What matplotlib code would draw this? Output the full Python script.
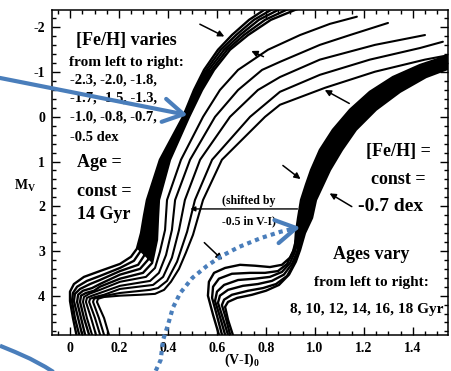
import matplotlib
matplotlib.use('Agg')
import matplotlib.pyplot as plt
from matplotlib.ticker import MultipleLocator

plt.rcParams['font.family'] = ['Liberation Serif', 'DejaVu Serif']
plt.rcParams['font.weight'] = 'bold'

# 14 Gyr isochrones, [Fe/H] varies (points are (V-I)_0, M_V)
feh_m23 = [(0.029, 4.95), (0.012, 4.50), (0.000, 4.12), (0.000, 3.91), (0.016, 3.74), (0.057, 3.58),
           (0.122, 3.45), (0.204, 3.29), (0.249, 3.13), (0.273, 2.95), (0.290, 2.60), (0.302, 2.21),
           (0.314, 1.86), (0.367, 0.96), (0.461, 0.00), (0.506, -0.60), (0.547, -1.05), (0.604, -1.50),
           (0.661, -1.83), (0.731, -2.17), (0.792, -2.39), (0.829, -2.51)]
feh_m20 = [(0.041, 4.95), (0.020, 4.50), (0.008, 4.12), (0.012, 3.94), (0.029, 3.80), (0.069, 3.67),
           (0.122, 3.56), (0.204, 3.38), (0.261, 3.22), (0.286, 3.02), (0.306, 2.60), (0.314, 2.21),
           (0.327, 1.86), (0.378, 0.96), (0.467, 0.00), (0.514, -0.60), (0.557, -1.05), (0.616, -1.50),
           (0.678, -1.83), (0.751, -2.17), (0.820, -2.39), (0.861, -2.51)]
feh_m18 = [(0.053, 4.95), (0.033, 4.50), (0.016, 4.12), (0.020, 3.96), (0.041, 3.85), (0.082, 3.74),
           (0.122, 3.65), (0.204, 3.45), (0.278, 3.31), (0.302, 3.11), (0.322, 2.60), (0.331, 2.21),
           (0.339, 1.86), (0.388, 0.96), (0.473, 0.00), (0.522, -0.60), (0.567, -1.05), (0.629, -1.50),
           (0.694, -1.83), (0.771, -2.17), (0.849, -2.39), (0.894, -2.51)]
feh_m17 = [(0.065, 4.95), (0.045, 4.50), (0.029, 4.14), (0.033, 3.98), (0.053, 3.89), (0.090, 3.83),
           (0.122, 3.74), (0.204, 3.53), (0.286, 3.40), (0.318, 3.20), (0.339, 2.64), (0.347, 2.21),
           (0.351, 1.86), (0.398, 0.96), (0.480, 0.00), (0.531, -0.60), (0.578, -1.05), (0.641, -1.50),
           (0.710, -1.83), (0.796, -2.17), (0.882, -2.39), (0.931, -2.51)]
feh_m15 = [(0.082, 4.95), (0.057, 4.50), (0.041, 4.14), (0.045, 4.00), (0.065, 3.94), (0.098, 3.89),
           (0.122, 3.80), (0.204, 3.62), (0.298, 3.49), (0.335, 3.27), (0.355, 2.75), (0.359, 2.26),
           (0.363, 1.86), (0.408, 0.96), (0.486, 0.00), (0.539, -0.60), (0.588, -1.05), (0.653, -1.50),
           (0.727, -1.83), (0.820, -2.17), (0.918, -2.39), (0.976, -2.51)]
feh_m13 = [(0.094, 4.95), (0.069, 4.50), (0.053, 4.14), (0.057, 4.03), (0.078, 3.96), (0.122, 3.87),
           (0.204, 3.69), (0.310, 3.58), (0.347, 3.38), (0.367, 3.02), (0.388, 2.53), (0.396, 1.86),
           (0.453, 0.96), (0.543, 0.00), (0.612, -0.60), (0.686, -1.05), (0.808, -1.50), (0.939, -1.83),
           (1.061, -2.08), (1.171, -2.24)]
feh_m10 = [(0.110, 4.95), (0.086, 4.50), (0.065, 4.14), (0.069, 4.05), (0.090, 4.00), (0.122, 3.94),
           (0.204, 3.78), (0.327, 3.67), (0.363, 3.49), (0.392, 3.09), (0.416, 2.53), (0.429, 1.86),
           (0.490, 0.96), (0.592, 0.00), (0.686, -0.60), (0.784, -1.05), (0.857, -1.23), (1.020, -1.61),
           (1.143, -1.83), (1.298, -2.10)]
feh_m08 = [(0.127, 4.95), (0.102, 4.50), (0.078, 4.14), (0.082, 4.07), (0.102, 4.03), (0.139, 3.98),
           (0.204, 3.85), (0.339, 3.76), (0.380, 3.58), (0.416, 3.15), (0.445, 2.53), (0.469, 1.86),
           (0.531, 0.96), (0.653, 0.00), (0.767, -0.60), (0.857, -0.89), (1.020, -1.28), (1.245, -1.61),
           (1.449, -1.83)]
feh_m07 = [(0.143, 4.95), (0.118, 4.50), (0.094, 4.14), (0.098, 4.07), (0.118, 4.03), (0.204, 3.94),
           (0.327, 3.87), (0.359, 3.83), (0.396, 3.67), (0.437, 3.24), (0.478, 2.57), (0.510, 1.86),
           (0.580, 0.96), (0.735, 0.00), (0.857, -0.56), (1.020, -0.94), (1.224, -1.28), (1.429, -1.54),
           (1.522, -1.68)]
feh_m05 = [(0.163, 4.95), (0.139, 4.50), (0.110, 4.14), (0.114, 4.07), (0.139, 4.03), (0.204, 4.00),
           (0.286, 3.98), (0.347, 3.96), (0.384, 3.87), (0.412, 3.69), (0.445, 3.40), (0.473, 3.04),
           (0.502, 2.64), (0.522, 2.26), (0.543, 1.86), (0.620, 0.96), (0.796, 0.00), (0.857, -0.27),
           (1.041, -0.65), (1.245, -1.01), (1.449, -1.28), (1.555, -1.39)]

# [Fe/H] = -0.7 isochrones, ages 8..18 Gyr (shown shifted in V-I)
age_08 = [(0.612, 4.95), (0.584, 4.43), (0.563, 4.00), (0.567, 3.69), (0.588, 3.49), (0.633, 3.38),
          (0.694, 3.31), (0.755, 3.33), (0.816, 3.36), (0.865, 3.31), (0.898, 3.15), (0.918, 2.93),
          (0.922, 2.60), (0.931, 2.26), (0.943, 1.86), (0.963, 1.52), (0.984, 1.19), (1.020, 0.74),
          (1.073, 0.29), (1.143, -0.16), (1.224, -0.56), (1.318, -0.89), (1.429, -1.16), (1.555, -1.39)]
age_10 = [(0.624, 4.95), (0.600, 4.45), (0.580, 4.05), (0.584, 3.80), (0.608, 3.62), (0.661, 3.51),
          (0.735, 3.49), (0.796, 3.49), (0.849, 3.45), (0.886, 3.29), (0.910, 3.02), (0.930, 2.60),
          (0.942, 2.26), (0.955, 1.86), (0.977, 1.52), (0.999, 1.19), (1.038, 0.74), (1.092, 0.29),
          (1.164, -0.16), (1.249, -0.56), (1.345, -0.89), (1.461, -1.19), (1.555, -1.32)]
age_12 = [(0.637, 4.95), (0.612, 4.47), (0.592, 4.12), (0.600, 3.91), (0.629, 3.76), (0.686, 3.65),
          (0.755, 3.62), (0.816, 3.58), (0.865, 3.47), (0.898, 3.27), (0.918, 3.02), (0.937, 2.60),
          (0.953, 2.26), (0.967, 1.86), (0.991, 1.52), (1.015, 1.19), (1.056, 0.74), (1.111, 0.29),
          (1.185, -0.16), (1.273, -0.56), (1.371, -0.89), (1.478, -1.14), (1.555, -1.25)]
age_14 = [(0.649, 4.95), (0.624, 4.50), (0.604, 4.16), (0.612, 4.00), (0.645, 3.87), (0.706, 3.78),
          (0.767, 3.74), (0.824, 3.67), (0.873, 3.53), (0.906, 3.29), (0.927, 3.02), (0.944, 2.60),
          (0.965, 2.26), (0.980, 1.86), (1.007, 1.52), (1.033, 1.19), (1.074, 0.74), (1.130, 0.29),
          (1.207, -0.16), (1.298, -0.56), (1.398, -0.89), (1.498, -1.10), (1.555, -1.19)]
age_16 = [(0.657, 4.95), (0.637, 4.52), (0.620, 4.21), (0.629, 4.09), (0.661, 3.98), (0.727, 3.89),
          (0.788, 3.83), (0.841, 3.74), (0.886, 3.56), (0.914, 3.29), (0.931, 3.02), (0.952, 2.60),
          (0.976, 2.26), (0.992, 1.86), (1.020, 1.52), (1.047, 1.19), (1.092, 0.74), (1.149, 0.29),
          (1.228, -0.16), (1.322, -0.56), (1.424, -0.89), (1.510, -1.05), (1.555, -1.14)]
age_18 = [(0.669, 4.95), (0.645, 4.54), (0.633, 4.25), (0.645, 4.14), (0.682, 4.05), (0.743, 3.98),
          (0.800, 3.89), (0.853, 3.76), (0.894, 3.53), (0.922, 3.24), (0.939, 2.98), (0.959, 2.60),
          (0.988, 2.26), (1.004, 1.86), (1.033, 1.52), (1.061, 1.19), (1.110, 0.74), (1.167, 0.29),
          (1.249, -0.16), (1.347, -0.56), (1.453, -0.89), (1.555, -1.10)]

metal_poor = [feh_m23, feh_m20, feh_m18, feh_m17, feh_m15]
metal_rich = [feh_m13, feh_m10, feh_m08, feh_m07, feh_m05]
age_tracks = [age_08, age_10, age_12, age_14, age_16, age_18]

# small black arrows: (tail, head)
black_arrows = [((0.52, -2.10), (0.64, -1.77)),
                ((0.80, -1.32), (0.73, -1.50)),
                ((1.15, -0.27), (1.03, -0.63)),
                ((0.86, 1.05), (0.95, 1.43)),
                ((1.16, 2.04), (1.05, 1.68)),
                ((0.54, 2.77), (0.63, 3.24))]

# blue overlay marks from the slide
blue_arrow = ((-0.286, -0.87), (0.48, -0.04))
blue_dotted = [(0.35, 5.68), (0.37, 5.44), (0.38, 4.99), (0.40, 4.65), (0.42, 4.27), (0.45, 3.94),
               (0.50, 3.60), (0.56, 3.33), (0.62, 3.11), (0.69, 2.91), (0.78, 2.71), (0.86, 2.57),
               (0.92, 2.49)]
blue_arc = [(-0.286, 5.12), (-0.224, 5.26), (-0.163, 5.41), (-0.102, 5.59), (-0.061, 5.73)]

blue = '#4a7ebb'

fig = plt.figure(figsize=(4.51, 3.71), dpi=100)
ax = fig.add_axes([52 / 451, 1 - 335 / 371, 396 / 451, 325 / 371])

# the metal-poor ones and the age set run together into solid black bands
band1 = feh_m23[9:17] + feh_m15[9:17][::-1]
band2 = age_08[11:] + age_18[10:][::-1]
for band in (band1, band2):
    ax.fill([p[0] for p in band], [p[1] for p in band], color='k', lw=0)

for trk in metal_poor + age_tracks:
    ax.plot([p[0] for p in trk], [p[1] for p in trk], color='k', lw=1.7, solid_capstyle='round')
for trk in metal_rich:
    ax.plot([p[0] for p in trk], [p[1] for p in trk], color='k', lw=1.5, solid_capstyle='round')

ax.set_xlim(-0.0735, 1.543)
ax.set_ylim(4.88, -2.39)
ax.xaxis.set_major_locator(MultipleLocator(0.2))
ax.xaxis.set_minor_locator(MultipleLocator(0.05))
ax.yaxis.set_major_locator(MultipleLocator(1))
ax.yaxis.set_minor_locator(MultipleLocator(0.2))
ax.tick_params(which='both', direction='in', top=True, right=True, width=1, labelsize=10, pad=5)
ax.tick_params(which='major', length=6)
ax.tick_params(which='minor', length=3)
ax.xaxis.set_major_formatter(plt.FuncFormatter(lambda v, p: '0' if abs(v) < 1e-9 else f'{v:.1f}'))
ax.yaxis.set_major_formatter(plt.FuncFormatter(lambda v, p: f'{v:.0f}'))
for s in ax.spines.values():
    s.set_linewidth(1.1)

ax.text(-0.185, 1.54, r'M$_\mathregular{V}$', fontsize=10, ha='center', va='center')
ax.text(0.70, 5.45, r'(V-I)$_\mathregular{0}$', fontsize=10, ha='center', va='center')

# left text block
ax.text(0.23, -1.70, '[Fe/H] varies', fontsize=13, ha='center', va='center')
ax.text(0.23, -1.21, 'from left to right:', fontsize=11, ha='center', va='center')
for yy, s in zip([-0.83, -0.43, 0.0, 0.47],
                 ['-2.3, -2.0, -1.8,', '-1.7, -1.5, -1.3,', '-1.0, -0.8, -0.7,', '-0.5 dex']):
    ax.text(0.0, yy, s, fontsize=10.5, ha='left', va='center')
for yy, s in zip([1.03, 1.68, 2.19], ['Age =', 'const =', '14 Gyr']):
    ax.text(0.03, yy, s, fontsize=13, ha='left', va='center')

# right text block
ax.text(1.34, 0.78, '[Fe/H] =', fontsize=13, ha='center', va='center')
ax.text(1.34, 1.41, 'const =', fontsize=13, ha='center', va='center')
ax.text(1.31, 2.01, '-0.7 dex', fontsize=14, ha='center', va='center')
ax.text(1.23, 3.09, 'Ages vary', fontsize=13, ha='center', va='center')
ax.text(1.23, 3.71, 'from left to right:', fontsize=11, ha='center', va='center')
ax.text(1.21, 4.32, '8, 10, 12, 14, 16, 18 Gyr', fontsize=11, ha='center', va='center')

ax.text(0.73, 1.88, '(shifted by', fontsize=8.5, ha='center', va='center')
ax.text(0.73, 2.33, '-0.5 in V-I)', fontsize=8.5, ha='center', va='center')
ax.annotate('', xy=(0.48, 2.06), xytext=(0.94, 2.06),
            arrowprops=dict(arrowstyle='-|>', lw=1, color='k', mutation_scale=7))

for tail, head in black_arrows:
    ax.annotate('', xy=head, xytext=tail,
                arrowprops=dict(arrowstyle='-|>', lw=1.1, color='k', mutation_scale=9))

# blue overlays
ax.annotate('', xy=blue_arrow[1], xytext=blue_arrow[0], annotation_clip=False,
            arrowprops=dict(arrowstyle='->,head_length=1.2,head_width=0.7', lw=3, color=blue,
                            mutation_scale=12, shrinkA=0, shrinkB=0), zorder=5)
ax.plot([p[0] for p in blue_dotted], [p[1] for p in blue_dotted], color=blue, lw=3,
        ls=(0, (1, 1)), dash_capstyle='butt', clip_on=False, zorder=5)
ax.annotate('', xy=(0.94, 2.47), xytext=(0.90, 2.51), annotation_clip=False,
            arrowprops=dict(arrowstyle='->,head_length=1.2,head_width=0.7', lw=3, color=blue,
                            mutation_scale=12, shrinkA=0, shrinkB=0), zorder=5)
ax.plot([p[0] for p in blue_arc], [p[1] for p in blue_arc], color=blue, lw=3,
        clip_on=False, zorder=5, solid_capstyle='butt')

fig.savefig('out.png', dpi=100)
